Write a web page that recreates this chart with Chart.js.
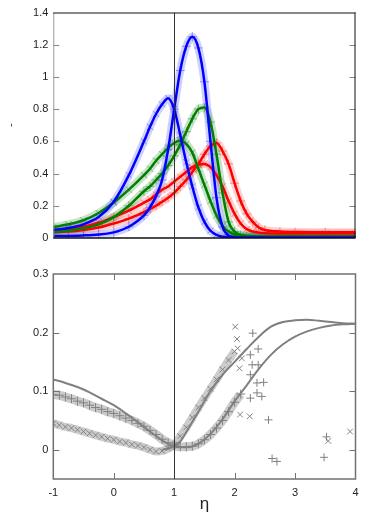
<!DOCTYPE html>
<html>
<head>
<meta charset="utf-8">
<title>eta profiles</title>
<script src="https://cdn.jsdelivr.net/npm/chart.js@4.4.1/dist/chart.umd.min.js"></script>
<style>
    body { margin: 0; background: #fff; }
    #wrap { position: relative; width: 374px; height: 523px; }
    canvas { position: absolute; left: 0; }
    #topChart { top: 0; }
    #bottomChart { top: 256px; }
</style>
</head>
<body>
<div id="wrap">
    <canvas id="topChart" width="374" height="256"></canvas>
    <canvas id="bottomChart" width="374" height="267"></canvas>
</div>
<script>
// Axis ticks
const etaTicks = [-1, 0, 1, 2, 3, 4];
const topYTicks = [0, 0.2, 0.4, 0.6, 0.8, 1, 1.2, 1.4];
const bottomYTicks = [0, 0.1, 0.2, 0.3];
const etaCut = 1;

// Top panel: eta grid shared by the six profiles
const etaTop = [-1, -0.75, -0.5, -0.25, 0, 0.25, 0.5, 0.6, 0.7, 0.8, 0.9, 1.0, 1.1, 1.2, 1.3, 1.4, 1.5, 1.6, 1.7, 1.8, 1.9, 2.0, 2.1, 2.2, 2.3, 2.4, 2.5, 2.75, 3, 3.5, 4];
const blueWide = [0.05, 0.062, 0.085, 0.13, 0.225, 0.39, 0.6, 0.69, 0.77, 0.83, 0.868, 0.80, 0.64, 0.47, 0.32, 0.19, 0.1, 0.045, 0.02, 0.008, 0.004, 0.002, 0.001, 0.001, 0.001, 0.001, 0.001, 0.001, 0.001, 0.001, 0.001];
const blueSharp = [0.012, 0.013, 0.016, 0.022, 0.035, 0.07, 0.14, 0.19, 0.26, 0.36, 0.55, 0.80, 1.04, 1.19, 1.25, 1.18, 0.97, 0.6, 0.25, 0.07, 0.015, 0.005, 0.003, 0.002, 0.002, 0.002, 0.002, 0.002, 0.002, 0.002, 0.002];
const greenWide = [0.068, 0.085, 0.11, 0.155, 0.22, 0.3, 0.39, 0.43, 0.48, 0.52, 0.56, 0.59, 0.605, 0.585, 0.53, 0.43, 0.33, 0.23, 0.14, 0.075, 0.04, 0.022, 0.015, 0.012, 0.011, 0.01, 0.01, 0.01, 0.01, 0.01, 0.01];
const greenSharp = [0.035, 0.045, 0.06, 0.085, 0.13, 0.2, 0.29, 0.32, 0.36, 0.4, 0.45, 0.51, 0.58, 0.66, 0.74, 0.8, 0.81, 0.72, 0.52, 0.28, 0.1, 0.04, 0.02, 0.014, 0.012, 0.011, 0.01, 0.01, 0.01, 0.01, 0.01];
const redWide = [0.045, 0.055, 0.07, 0.095, 0.13, 0.17, 0.22, 0.24, 0.27, 0.3, 0.32, 0.35, 0.38, 0.41, 0.44, 0.455, 0.46, 0.44, 0.39, 0.32, 0.23, 0.15, 0.09, 0.055, 0.04, 0.033, 0.03, 0.028, 0.028, 0.028, 0.028];
const redSharp = [0.035, 0.04, 0.05, 0.065, 0.09, 0.12, 0.16, 0.18, 0.2, 0.225, 0.25, 0.28, 0.32, 0.36, 0.41, 0.46, 0.52, 0.57, 0.59, 0.54, 0.46, 0.34, 0.23, 0.15, 0.1, 0.065, 0.05, 0.04, 0.037, 0.036, 0.036];

// Bottom panel: fitted curves
const etaLine = [-1, -0.8, -0.6, -0.4, -0.2, 0, 0.2, 0.4, 0.6, 0.8, 0.9, 1.0, 1.1, 1.2, 1.4, 1.6, 1.8, 2.0, 2.2, 2.4, 2.6, 2.8, 3.0, 3.2, 3.4, 3.6, 3.8, 4.0];
const plusLine = [0.12, 0.114, 0.107, 0.098, 0.087, 0.076, 0.062, 0.047, 0.031, 0.016, 0.01, 0.006, 0.004, 0.004, 0.01, 0.027, 0.052, 0.083, 0.11, 0.138, 0.162, 0.18, 0.193, 0.202, 0.208, 0.212, 0.214, 0.215];
const crossLine = [null, null, null, null, null, null, null, null, null, 0.0, 0.002, 0.006, 0.014, 0.03, 0.065, 0.1, 0.128, 0.15, 0.172, 0.193, 0.21, 0.218, 0.221, 0.222, 0.22, 0.218, 0.216, 0.215];

// Bottom panel: marker clouds
const etaPlusCloud = [-1, -0.9, -0.8, -0.7, -0.6, -0.5, -0.4, -0.3, -0.2, -0.1, 0, 0.1, 0.2, 0.3, 0.4, 0.5, 0.6, 0.7, 0.8, 0.9, 1.0, 1.1, 1.2, 1.3, 1.4, 1.5, 1.6, 1.7, 1.8, 1.9, 2.0, 2.1];
const plusCloud = [0.094, 0.093, 0.09, 0.087, 0.083, 0.08, 0.076, 0.072, 0.069, 0.065, 0.062, 0.058, 0.054, 0.05, 0.045, 0.04, 0.033, 0.026, 0.018, 0.012, 0.007, 0.005, 0.005, 0.006, 0.01, 0.017, 0.026, 0.037, 0.05, 0.065, 0.081, 0.095];
const etaCrossCloud = [-1, -0.9, -0.8, -0.7, -0.6, -0.5, -0.4, -0.3, -0.2, -0.1, 0, 0.1, 0.2, 0.3, 0.4, 0.5, 0.6, 0.7, 0.8, 0.9, 1.0, 1.1, 1.2, 1.3, 1.4, 1.5, 1.6, 1.7, 1.8, 1.9, 2.0];
const crossCloud = [0.045, 0.042, 0.039, 0.037, 0.034, 0.031, 0.028, 0.025, 0.022, 0.019, 0.017, 0.014, 0.012, 0.009, 0.007, 0.004, 0.0, -0.003, -0.002, 0.002, 0.008, 0.023, 0.038, 0.055, 0.072, 0.088, 0.104, 0.12, 0.137, 0.153, 0.168];

// Bottom panel: scattered points
const plusOutEta = [2.30, 2.39, 2.26, 2.29, 2.39, 2.48, 2.45, 2.26, 2.37, 2.26, 2.37, 2.56, 2.62, 2.70, 3.52, 3.48];
const plusOutVal = [0.199, 0.172, 0.162, 0.145, 0.145, 0.115, 0.091, 0.088, 0.097, 0.128, 0.114, 0.051, -0.015, -0.02, 0.022, -0.013];
const crossOutEta = [2.01, 2.04, 2.05, 2.12, 2.08, 2.09, 2.25, 3.55, 3.91];
const crossOutVal = [0.21, 0.189, 0.173, 0.156, 0.139, 0.06, 0.057, 0.015, 0.031];

const FONT = "'Liberation Sans', Arial, sans-serif";
const GREY = '#808080';

const pts = (xs, ys) => xs.map((x, i) => ({ x: x, y: ys[i] }));

// frame, inward ticks and the eta = 1 line
const framePlugin = {
    id: 'frame',
    afterDatasetsDraw(chart, args, opts) {
        const { ctx, chartArea: a, scales } = chart;
        const xs = scales.x, ys = scales.y;
        const top = opts.panel === 'top';
        ctx.save();

        // ticks
        ctx.lineWidth = 1;
        ctx.strokeStyle = top ? '#888' : '#707070';
        const tl = 6;
        ctx.beginPath();
        (top ? topYTicks : bottomYTicks).forEach(v => {
            const y = Math.round(ys.getPixelForValue(v)) + 0.5;
            if (y <= a.top + 1 || y >= a.bottom - 1) return;
            ctx.moveTo(a.left, y); ctx.lineTo(a.left + tl, y);
            ctx.moveTo(a.right, y); ctx.lineTo(a.right - tl, y);
        });
        if (!top) {
            etaTicks.forEach(v => {
                const x = Math.round(xs.getPixelForValue(v)) + 0.5;
                if (x <= a.left + 1 || x >= a.right - 1) return;
                ctx.moveTo(x, a.top); ctx.lineTo(x, a.top + tl);
                ctx.moveTo(x, a.bottom); ctx.lineTo(x, a.bottom - tl);
            });
        }
        ctx.stroke();

        // border
        if (top) {
            ctx.strokeStyle = '#999';
            ctx.lineWidth = 1;
            ctx.beginPath();
            ctx.moveTo(a.left + 0.5, a.top); ctx.lineTo(a.left + 0.5, a.bottom);
            ctx.stroke();
            ctx.strokeStyle = '#111';
            ctx.beginPath();
            ctx.moveTo(a.left, a.top + 0.5); ctx.lineTo(a.right, a.top + 0.5);
            ctx.moveTo(a.right - 0.5, a.top); ctx.lineTo(a.right - 0.5, a.bottom);
            ctx.stroke();
            ctx.lineWidth = 1.5;
            ctx.beginPath();
            ctx.moveTo(a.left, a.bottom); ctx.lineTo(a.right, a.bottom);
            ctx.stroke();
        } else {
            ctx.strokeStyle = '#707070';
            ctx.lineWidth = 1.5;
            ctx.strokeRect(a.left, a.top, a.right - a.left, a.bottom - a.top);
        }

        // vertical line at eta = 1, running across both panels
        const xc = Math.round(xs.getPixelForValue(etaCut)) + 0.5;
        ctx.strokeStyle = '#333';
        ctx.lineWidth = 1;
        ctx.beginPath();
        ctx.moveTo(xc, top ? a.top : 0);
        ctx.lineTo(xc, top ? chart.height : a.bottom);
        ctx.stroke();
        ctx.restore();
    }
};

function profile(label, values, color, band, mark, marker, layer) {
    return [
        {
            label: label + ' data',
            data: pts(etaTop, values),
            showLine: true,
            borderColor: band,
            borderWidth: 8,
            pointStyle: marker,
            pointRadius: 4.5,
            pointBorderWidth: 1,
            pointBorderColor: mark,
            cubicInterpolationMode: 'monotone',
            order: 10 + layer
        },
        {
            label: label,
            data: pts(etaTop, values),
            showLine: true,
            borderColor: color,
            borderWidth: 2.5,
            pointRadius: 0,
            cubicInterpolationMode: 'monotone',
            order: layer
        }
    ];
}

const tickFont = { family: FONT, size: 11 };

function createTopChart() {
    const ctx = document.getElementById('topChart');
    const blueBand = 'rgba(110, 110, 255, 0.32)', blueMark = 'rgba(90, 90, 255, 0.6)';
    const greenBand = 'rgba(60, 150, 60, 0.28)', greenMark = 'rgba(40, 140, 40, 0.55)';
    const redBand = 'rgba(255, 90, 90, 0.28)', redMark = 'rgba(255, 60, 60, 0.55)';

    new Chart(ctx, {
        type: 'scatter',
        data: {
            datasets: [].concat(
                profile('blue wide', blueWide, '#0000ff', blueBand, blueMark, 'crossRot', 0),
                profile('blue sharp', blueSharp, '#0000ff', blueBand, blueMark, 'cross', 0),
                profile('green wide', greenWide, '#008000', greenBand, greenMark, 'crossRot', 1),
                profile('green sharp', greenSharp, '#008000', greenBand, greenMark, 'cross', 1),
                profile('red wide', redWide, '#ff0000', redBand, redMark, 'crossRot', 2),
                profile('red sharp', redSharp, '#ff0000', redBand, redMark, 'cross', 2)
            )
        },
        options: {
            responsive: false,
            animation: false,
            layout: { padding: { top: 12.5, right: 18.5, bottom: 18, left: 0 } },
            plugins: {
                legend: { display: false },
                tooltip: { enabled: false },
                frame: { panel: 'top' }
            },
            scales: {
                x: { type: 'linear', min: -1, max: 4, display: false },
                y: {
                    min: 0,
                    max: 1.4,
                    afterBuildTicks: s => { s.ticks = topYTicks.map(v => ({ value: v })); },
                    afterFit: s => { s.width = 53.3; },
                    grid: { display: false, drawTicks: false },
                    border: { display: false },
                    ticks: { color: '#222', font: tickFont, padding: 5, callback: v => String(v) },
                    title: { display: true, text: '-', color: '#333', font: tickFont, padding: 4 }
                }
            }
        },
        plugins: [framePlugin]
    });
}

function createBottomChart() {
    const ctx = document.getElementById('bottomChart');
    const cloud = 'rgba(128, 128, 128, 0.4)';

    new Chart(ctx, {
        type: 'scatter',
        data: {
            datasets: [
                {
                    label: '+ fit',
                    data: pts(etaLine, plusLine),
                    showLine: true,
                    borderColor: GREY,
                    borderWidth: 2,
                    pointRadius: 0,
                    cubicInterpolationMode: 'monotone',
                    order: 1
                },
                {
                    label: 'x fit',
                    data: pts(etaLine, crossLine),
                    showLine: true,
                    borderColor: GREY,
                    borderWidth: 2,
                    pointRadius: 0,
                    cubicInterpolationMode: 'monotone',
                    order: 1
                },
                {
                    label: '+ data',
                    data: pts(etaPlusCloud, plusCloud),
                    showLine: true,
                    borderColor: cloud,
                    borderWidth: 9,
                    pointStyle: 'cross',
                    pointRadius: 4.5,
                    pointBorderWidth: 1,
                    pointBorderColor: GREY,
                    cubicInterpolationMode: 'monotone',
                    order: 3
                },
                {
                    label: 'x data',
                    data: pts(etaCrossCloud, crossCloud),
                    showLine: true,
                    borderColor: cloud,
                    borderWidth: 8,
                    pointStyle: 'crossRot',
                    pointRadius: 4,
                    pointBorderWidth: 1,
                    pointBorderColor: GREY,
                    cubicInterpolationMode: 'monotone',
                    order: 3
                },
                {
                    label: '+ scattered',
                    data: pts(plusOutEta, plusOutVal),
                    pointStyle: 'cross',
                    pointRadius: 4,
                    pointBorderWidth: 1,
                    pointBorderColor: GREY,
                    order: 2
                },
                {
                    label: 'x scattered',
                    data: pts(crossOutEta, crossOutVal),
                    pointStyle: 'crossRot',
                    pointRadius: 4,
                    pointBorderWidth: 1,
                    pointBorderColor: GREY,
                    order: 2
                }
            ]
        },
        options: {
            responsive: false,
            animation: false,
            layout: { padding: { top: 18, right: 18.5, bottom: 0, left: 0 } },
            plugins: {
                legend: { display: false },
                tooltip: { enabled: false },
                frame: { panel: 'bottom' }
            },
            scales: {
                x: {
                    type: 'linear',
                    min: -1,
                    max: 4,
                    afterBuildTicks: s => { s.ticks = etaTicks.map(v => ({ value: v })); },
                    afterFit: s => { s.height = 44; },
                    grid: { display: false, drawTicks: false },
                    border: { display: false },
                    ticks: { color: '#222', font: tickFont, padding: 7, maxRotation: 0 },
                    title: { display: true, text: 'η', color: '#222', font: { family: FONT, size: 17 }, padding: { top: 0, bottom: 8 } }
                },
                y: {
                    min: -0.05,
                    max: 0.3,
                    afterBuildTicks: s => { s.ticks = bottomYTicks.map(v => ({ value: v })); },
                    afterFit: s => { s.width = 53.3; },
                    grid: { display: false, drawTicks: false },
                    border: { display: false },
                    ticks: { color: '#222', font: tickFont, padding: 5, callback: v => String(v) }
                }
            }
        },
        plugins: [framePlugin]
    });
}

createTopChart();
createBottomChart();
</script>
</body>
</html>
